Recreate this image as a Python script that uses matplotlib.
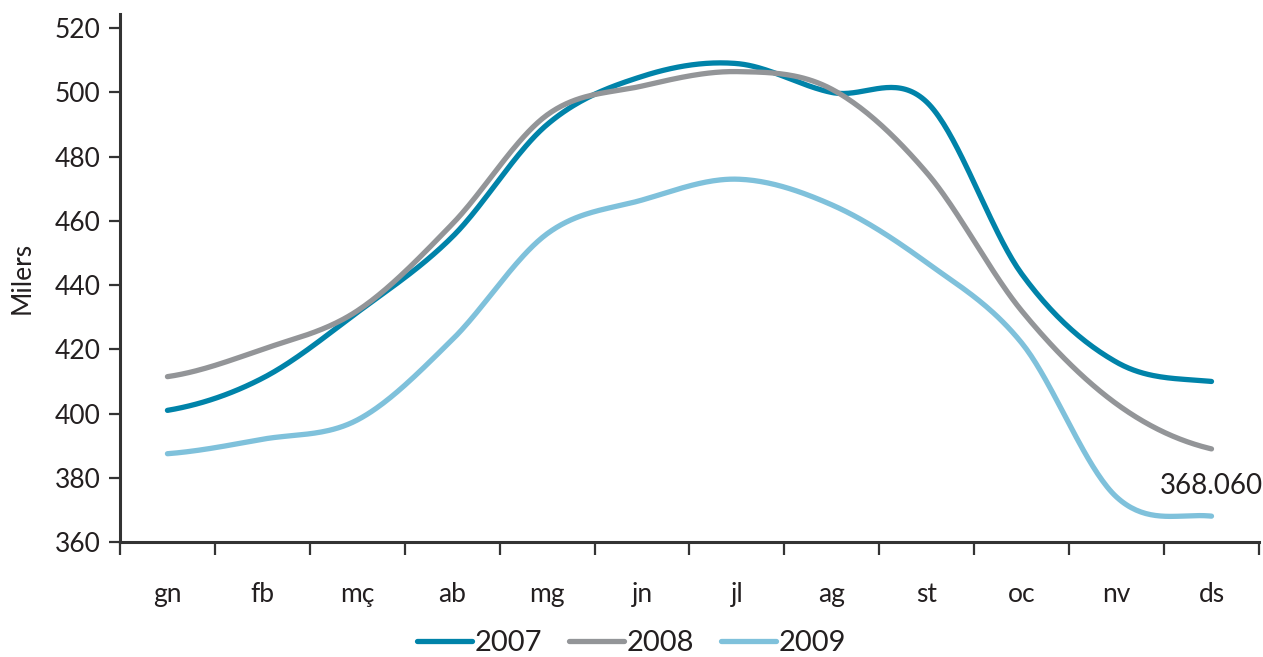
import numpy as np
import matplotlib
matplotlib.use("Agg")
import matplotlib.pyplot as plt
from matplotlib.lines import Line2D

plt.rcParams['font.family'] = ['Lato', 'DejaVu Sans']

months = ["gn", "fb", "mç", "ab", "mg", "jn", "jl", "ag", "st", "oc", "nv", "ds"]
series_names = ["2007", "2008", "2009"]
v2007 = [401, 411, 431.5, 455, 490, 505, 509, 500, 497, 443.5, 416, 410]
v2008 = [411.5, 420, 432, 459, 493, 502, 506.5, 501, 475, 432, 403, 389]
v2009 = [387.5, 392, 398, 423, 456, 466.5, 473, 465, 447, 422, 374, 368.06]
colors = ["#0083A9", "#939598", "#7FC1DB"]
yticks = [360, 380, 400, 420, 440, 460, 480, 500, 520]
last_label = "368.060"


def catmull_rom(xs, ys, n=40, tension=0.5):
    xs = np.asarray(xs, float)
    ys = np.asarray(ys, float)
    px = np.concatenate([[2 * xs[0] - xs[1]], xs, [2 * xs[-1] - xs[-2]]])
    py = np.concatenate([[ys[0]], ys, [ys[-1]]])
    outx, outy = [], []
    for i in range(1, len(px) - 2):
        t = np.linspace(0, 1, n, endpoint=(i == len(px) - 3))
        p0, p1, p2, p3 = py[i - 1], py[i], py[i + 1], py[i + 2]
        m1 = tension * (p2 - p0)
        m2 = tension * (p3 - p1)
        h00 = 2 * t**3 - 3 * t**2 + 1
        h10 = t**3 - 2 * t**2 + t
        h01 = -2 * t**3 + 3 * t**2
        h11 = t**3 - t**2
        x0, x1 = px[i], px[i + 1]
        outx.append(x0 + (x1 - x0) * t)
        outy.append(h00 * p1 + h10 * m1 + h01 * p2 + h11 * m2)
    return np.concatenate(outx), np.concatenate(outy)


fig = plt.figure(figsize=(12.63, 6.57), dpi=100)
ax = fig.add_axes([0.095, 0.175, 0.9018, 0.804])

x = np.arange(len(months))
for name, vals, c in zip(series_names, [v2007, v2008, v2009], colors):
    sx, sy = catmull_rom(x, vals)
    ax.plot(sx, sy, color=c, lw=3.8, solid_capstyle='round', label=name)

ax.set_xlim(-0.5, len(months) - 0.5)
ax.set_ylim(360, 524.5)
ax.set_yticks(yticks)
ax.set_yticklabels([str(v) for v in yticks], fontsize=19, color="#231F20")
ax.set_xticks(x)
ax.set_xticklabels(months, fontsize=19, color="#231F20")
ax.set_xticks(np.arange(-0.5, len(months)), minor=True)
ax.tick_params(axis='x', which='major', length=0, pad=29)
ax.tick_params(axis='x', which='minor', length=9, width=1.6, color="#333333")
ax.tick_params(axis='y', length=8, width=1.6, color="#333333", pad=6)
for s in ["top", "right"]:
    ax.spines[s].set_visible(False)
for s in ["left", "bottom"]:
    ax.spines[s].set_linewidth(2.2)
    ax.spines[s].set_color("#333333")

ax.set_ylabel("Milers", fontsize=19, color="#231F20", labelpad=14)

ax.annotate(last_label, xy=(x[-1], v2009[-1]), xytext=(0, 12), textcoords='offset points',
            ha='center', va='bottom', fontsize=20, color="#231F20")

handles = [Line2D([0], [0], color=c, lw=3.8, solid_capstyle='round') for c in colors]
fig.legend(handles, series_names, loc='center', bbox_to_anchor=(0.5, 0.021), ncol=3,
           frameon=False, fontsize=21, handlelength=1.9, handletextpad=0.1,
           columnspacing=0.9, labelcolor="#231F20")

fig.savefig("out.png", dpi=100)
